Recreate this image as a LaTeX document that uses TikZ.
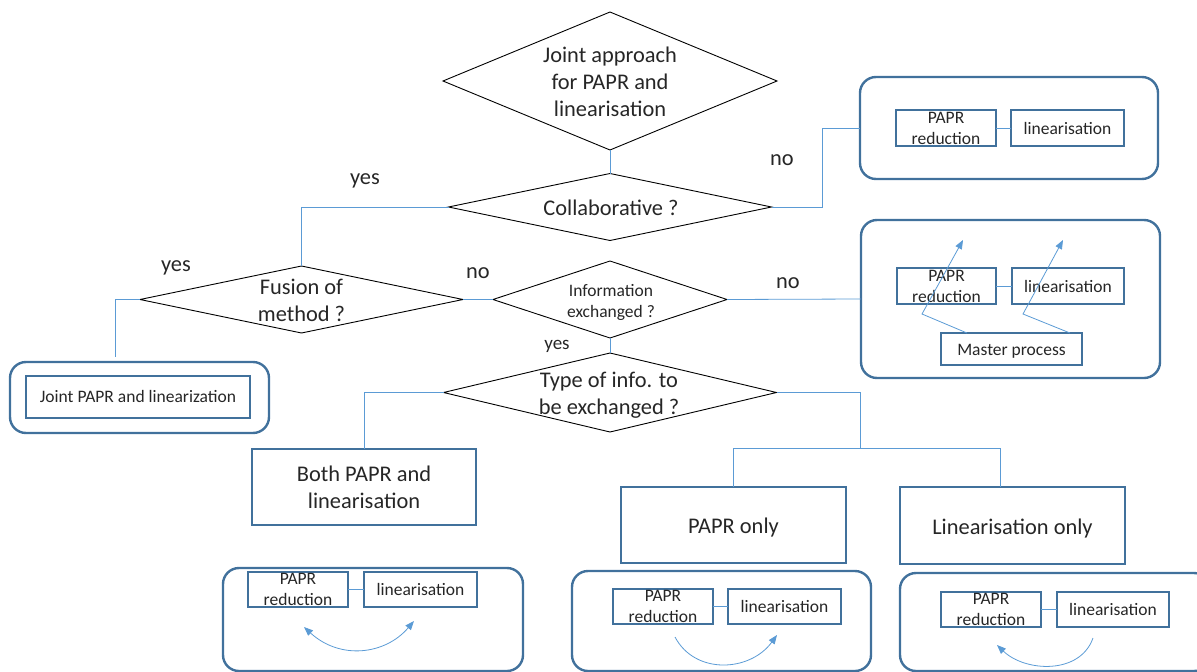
\documentclass[tikz,border=0pt]{standalone}
\usepackage{fontspec}
\setmainfont{Carlito}
\usetikzlibrary{shapes.geometric,arrows.meta}
\definecolor{connc}{HTML}{5B9BD5}
\definecolor{boxc}{HTML}{41719C}
\definecolor{txtc}{HTML}{262626}
\begin{document}
\begin{tikzpicture}[x=1pt,y=-1pt,
 dia/.style={draw=black, line width=0.9pt, diamond, inner sep=0pt, outer sep=0pt},
 bigtxt/.style={text=txtc, font=\fontsize{22.4}{27}\selectfont, align=center, inner sep=0pt},
 smalltxt/.style={text=txtc, font=\fontsize{17.5}{21}\selectfont, align=center, inner sep=0pt},
 rbox/.style={draw=boxc, line width=2.4pt, rounded corners=16pt, inner sep=0pt, outer sep=0pt},
 ibox/.style={draw=boxc, line width=1.2pt, rectangle, inner sep=0pt, outer sep=0pt, smalltxt},
 mbox/.style={draw=boxc, line width=1.1pt, rectangle, inner sep=0pt, outer sep=0pt, bigtxt},
 conn/.style={draw=connc, line width=0.8pt},
 arr/.style={draw=connc, line width=0.8pt, -{Triangle[length=9pt,width=7pt]}},
 darr/.style={draw=connc, line width=0.8pt, {Triangle[length=9pt,width=7pt]}-{Triangle[length=9pt,width=7pt]}},
 lbl/.style={text=txtc, font=\fontsize{22.4}{27}\selectfont, inner sep=0pt},
]
\useasboundingbox (0,0) rectangle (1197,672);

% diamonds
\node[dia, minimum width=334pt, minimum height=138pt] (d1) at (610,81) {};
\node[bigtxt] (d1t) at (610,82) {Joint approach\\for PAPR and\\linearisation};
\node[dia, minimum width=323pt, minimum height=67pt] (d2) at (610,207) {};
\node[bigtxt] (d2t) at (611,208) {Collaborative ?};
\node[dia, minimum width=323pt, minimum height=67pt] (d3) at (301.5,299.5) {};
\node[bigtxt] (d3t) at (301.5,300) {Fusion of\\method ?};
\node[dia, minimum width=234pt, minimum height=77pt] (d4) at (610,299.5) {};
\node[smalltxt] (d4t) at (611,302) {Information\\exchanged ?};
\node[dia, minimum width=333pt, minimum height=79pt] (d5) at (610,392.5) {};
\node[bigtxt] (d5t) at (609,395) {Type of info. to\\be exchanged ?};

% top right box
\node[rbox, minimum width=298pt, minimum height=102pt] (tr) at (1009,128) {};
\node[ibox, minimum width=100pt, minimum height=36pt] (tr1) at (946,128) {PAPR\\reduction};
\node[ibox, minimum width=113pt, minimum height=36pt] (tr2) at (1067.5,128) {linearisation};
\draw[conn] (tr1.east) -- (tr2.west);

% master process box
\node[rbox, minimum width=299pt, minimum height=158pt] (mp) at (1010.5,299) {};
\node[ibox, minimum width=99pt, minimum height=36pt] (mp1) at (946.5,286) {PAPR\\reduction};
\node[ibox, minimum width=112pt, minimum height=36pt] (mp2) at (1068,286) {linearisation};
\node[ibox, minimum width=141pt, minimum height=32pt, text height=15pt, text depth=3pt] (mpm) at (1011.5,349) {Master process};
\draw[conn] (mp1.east) -- (mp2.west);
\coordinate (ma1) at (963,240);
\coordinate (ma2) at (1063,240);
\draw[arr] ([xshift=-44.5pt]mpm.north) -- (922,314) -- (ma1);
\draw[arr] ([xshift=58.5pt]mpm.north) -- (1023,314) -- (ma2);

% joint box
\node[rbox, minimum width=259pt, minimum height=71pt] (jb) at (139.5,397.5) {};
\node[ibox, minimum width=224pt, minimum height=42pt, text height=14pt, text depth=3pt] (jb1) at (138,397) {Joint PAPR and linearization};

% main rectangles
\node[mbox, minimum width=224pt, minimum height=76pt] (both) at (364,487) {Both PAPR and\\linearisation};
\node[mbox, minimum width=225pt, minimum height=76pt, text height=20pt, text depth=2.8pt] (po) at (733.5,525) {PAPR only};
\node[mbox, minimum width=225pt, minimum height=77pt, text height=20pt, text depth=2.8pt] (lo) at (1012.5,525.5) {Linearisation only};

% bottom boxes
\node[rbox, minimum width=300pt, minimum height=103pt] (bA) at (373,619.5) {};
\node[ibox, minimum width=100pt, minimum height=35pt] (bA1) at (298,589.5) {PAPR\\reduction};
\node[ibox, minimum width=113pt, minimum height=35pt] (bA2) at (420.5,589.5) {linearisation};
\draw[conn] (bA1.east) -- (bA2.west);
\coordinate (aA1) at (304,627);
\coordinate (aA2) at (414,621);
\draw[darr] (aA1) .. controls (340,660) and (385,655) .. (aA2);

\node[rbox, minimum width=299pt, minimum height=100pt] (bB) at (721.5,621) {};
\node[ibox, minimum width=100pt, minimum height=35pt] (bB1) at (663,606.5) {PAPR\\reduction};
\node[ibox, minimum width=113pt, minimum height=35pt] (bB2) at (784.5,606.5) {linearisation};
\draw[conn] (bB1.east) -- (bB2.west);
\coordinate (aB1) at (675,637);
\coordinate (aB2) at (777,635);
\draw[arr] (aB1) .. controls (695,675) and (750,672) .. (aB2);

\node[rbox, minimum width=310pt, minimum height=98pt] (bC) at (1055,622) {};
\node[ibox, minimum width=100pt, minimum height=35pt] (bC1) at (991,609.5) {PAPR\\reduction};
\node[ibox, minimum width=112pt, minimum height=35pt] (bC2) at (1113,609.5) {linearisation};
\draw[conn] (bC1.east) -- (bC2.west);
\coordinate (aC1) at (1093,638);
\coordinate (aC2) at (997,645);
\draw[arr] (aC1) .. controls (1080,675) and (1025,672) .. (aC2);

% connectors
\draw[conn] (d1.south) -- (d2.north);
\draw[conn] (d2.east) -- ++(51,0) |- (tr.west);
\draw[conn] (d2.west) -| (d3.north);
\coordinate (jc) at (115,357);
\draw[conn] (d3.west) -| (jc);
\draw[conn] (d3.east) -- (d4.west);
\draw[conn] (d4.east) -- (mp.west);
\draw[conn] (d4.south) -- (d5.north);
\draw[conn] (d5.west) -| (both.north);
\coordinate (j1) at (860,448);
\coordinate (j2) at (1000,448);
\draw[conn] (d5.east) -| (j1);
\draw[conn] (po.north) |- (j2) -- (j2 |- lo.north);

% labels
\node[lbl] (l1) at (365,181) {yes};
\node[lbl] (l2) at (782,160) {no};
\node[lbl] (l3) at (176,268) {yes};
\node[lbl] (l4) at (478,273) {no};
\node[lbl] (l5) at (788,283) {no};
\node[lbl, font=\fontsize{19}{23}\selectfont] (l6) at (557,346) {yes};
\end{tikzpicture}
\end{document}
